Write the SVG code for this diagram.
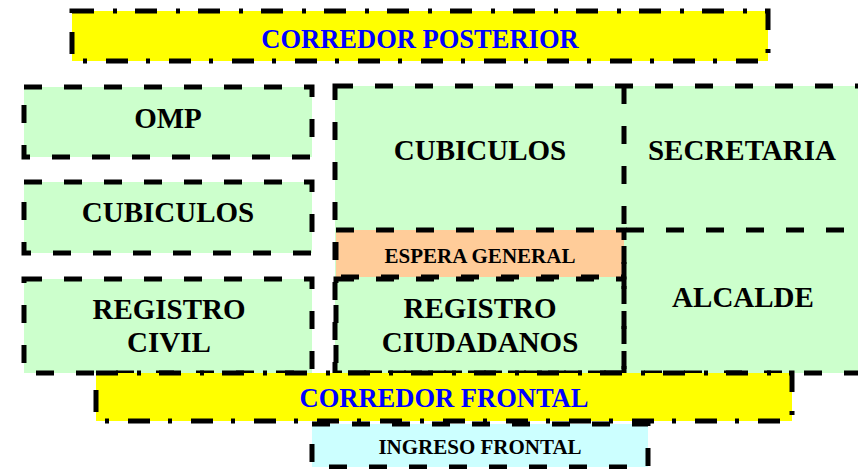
<svg xmlns="http://www.w3.org/2000/svg" width="858" height="469" viewBox="0 0 858 469">
<style>
.room{fill:#ccffcc;stroke:none}
.dash{fill:none;stroke:#000;stroke-width:5;stroke-dasharray:18 22}
.dashdot{stroke:#000;stroke-width:5;stroke-dasharray:22 19 4 18}
.lbl{font-family:"Liberation Serif","Times New Roman",serif;font-weight:bold;fill:#000;text-anchor:middle}
.big{font-size:29px}
.small{font-size:21px}
.cor{font-family:"Liberation Serif","Times New Roman",serif;font-weight:bold;fill:#0000ff;text-anchor:middle;font-size:26.5px}
</style>
<rect width="858" height="469" fill="#fff"/>
<g id="corredor-posterior">
<rect x="72" y="11" width="696" height="50" fill="#ffff00" class="dashdot"/>
<text class="cor" x="420" y="48">CORREDOR POSTERIOR</text>
</g>
<g id="omp">
<rect x="24" y="87" width="288" height="70" class="room"/>
<rect x="24" y="87" width="288" height="70" class="dash"/>
<text class="lbl big" x="168" y="128">OMP</text>
</g>
<g id="cubiculos-izq">
<rect x="24" y="182" width="288" height="71" class="room"/>
<rect x="24" y="182" width="288" height="71" class="dash"/>
<text class="lbl big" x="168" y="222">CUBICULOS</text>
</g>
<g id="registro-civil">
<rect x="24" y="279" width="288" height="94" class="room"/>
<rect x="24" y="279" width="288" height="94" class="dash"/>
<text class="lbl big" x="169" y="319">REGISTRO</text>
<text class="lbl big" x="169" y="352">CIVIL</text>
</g>
<g id="bloque-central">
<rect x="335" y="86" width="540" height="287" class="room"/>
</g>
<g id="cubiculos-centro">
<text class="lbl big" x="480" y="160">CUBICULOS</text>
</g>
<g id="secretaria">
<text class="lbl big" x="742" y="160">SECRETARIA</text>
</g>
<g id="alcalde">
<text class="lbl big" x="743" y="307">ALCALDE</text>
</g>
<g id="espera-general">
<rect x="336" y="230" width="288" height="47" fill="#ffcc99"/>
<rect x="336" y="230" width="288" height="47" class="dash"/>
<text class="lbl small" x="480" y="263">ESPERA GENERAL</text>
</g>
<g id="registro-ciudadanos">
<rect x="336" y="279" width="288" height="94" class="dash"/>
<text class="lbl big" x="480" y="318">REGISTRO</text>
<text class="lbl big" x="480" y="352">CIUDADANOS</text>
</g>
<g id="muros">
<rect x="335" y="86" width="540" height="287" class="dash"/>
<line x1="624" y1="86" x2="624" y2="373" class="dash"/>
<line x1="626" y1="230" x2="858" y2="230" class="dash"/>
</g>
<g id="corredor-frontal">
<rect x="96" y="373" width="696" height="48" fill="#ffff00" class="dashdot"/>
<text class="cor" x="444" y="407">CORREDOR FRONTAL</text>
</g>
<g id="ingreso-frontal">
<rect x="312" y="424" width="336" height="43" fill="#ccffff"/>
<rect x="312" y="424" width="336" height="43" class="dash"/>
<text class="lbl small" x="480" y="454">INGRESO FRONTAL</text>
</g>
<g id="connectors"></g>
</svg>
